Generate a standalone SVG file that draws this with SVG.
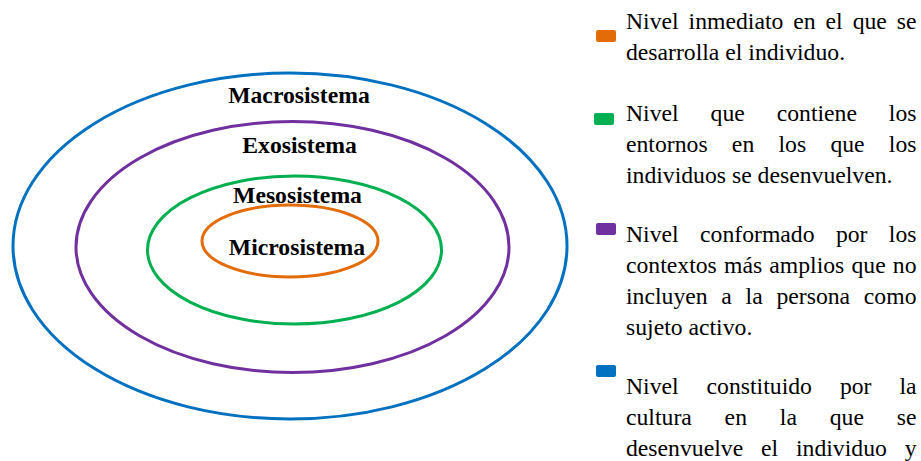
<svg xmlns="http://www.w3.org/2000/svg" width="921" height="461" viewBox="0 0 921 461">
<style>
.ring{fill:none;stroke-width:3}
.lbl{font-family:"Liberation Serif","Times New Roman",serif;font-weight:bold;font-size:23.7px;fill:#000;text-anchor:middle}
.leg{font-family:"Liberation Serif","Times New Roman",serif;font-size:23.7px;fill:#000}
.sw{stroke:none}
</style>
<rect width="921" height="461" fill="#fff"/>
<g id="macrosistema">
<ellipse class="ring" cx="290" cy="246" rx="277" ry="173" stroke="#0070C0"/>
<text class="lbl" x="299" y="103">Macrosistema</text>
</g>
<g id="exosistema">
<ellipse class="ring" cx="292.5" cy="247" rx="216.5" ry="125.5" stroke="#7030A0"/>
<text class="lbl" x="299.5" y="152.5">Exosistema</text>
</g>
<g id="mesosistema">
<ellipse class="ring" cx="294.5" cy="250" rx="147" ry="74" stroke="#00B050"/>
<text class="lbl" x="297.5" y="203">Mesosistema</text>
</g>
<g id="microsistema">
<ellipse class="ring" cx="290" cy="241" rx="88" ry="36" stroke="#E36C09"/>
<text class="lbl" x="297" y="254.5">Microsistema</text>
</g>
<g id="connectors"/>
<g id="legend-micro">
<rect class="sw" x="596" y="30" width="20" height="12" rx="2" fill="#E36C09"/>
<text class="leg" x="626" y="29" textLength="290.5" lengthAdjust="spacing" word-spacing="4">Nivel inmediato en el que se</text>
<text class="leg" x="626" y="60">desarrolla el individuo.</text>
</g>
<g id="legend-meso">
<rect class="sw" x="594" y="113" width="20" height="12" rx="2" fill="#00B050"/>
<text class="leg" x="626" y="120.5" textLength="290.5" lengthAdjust="spacing" word-spacing="26">Nivel que contiene los</text>
<text class="leg" x="626" y="151.5" textLength="290.5" lengthAdjust="spacing" word-spacing="18.3">entornos en los que los</text>
<text class="leg" x="626" y="182.5">individuos se desenvuelven.</text>
</g>
<g id="legend-exo">
<rect class="sw" x="596" y="223" width="20" height="12" rx="2" fill="#7030A0"/>
<text class="leg" x="626" y="241.5" textLength="290.5" lengthAdjust="spacing" word-spacing="15.4">Nivel conformado por los</text>
<text class="leg" x="626" y="272.5" textLength="290.5" lengthAdjust="spacing" word-spacing="1.2">contextos más amplios que no</text>
<text class="leg" x="626" y="303.5" textLength="290.5" lengthAdjust="spacing" word-spacing="7.8">incluyen a la persona como</text>
<text class="leg" x="626" y="334.5">sujeto activo.</text>
</g>
<g id="legend-macro">
<rect class="sw" x="596" y="365" width="20" height="12" rx="2" fill="#0070C0"/>
<text class="leg" x="626" y="394" textLength="290.5" lengthAdjust="spacing" word-spacing="22">Nivel constituido por la</text>
<text class="leg" x="626" y="425" textLength="290.5" lengthAdjust="spacing" word-spacing="26.9">cultura en la que se</text>
<text class="leg" x="626" y="456" textLength="290.5" lengthAdjust="spacing" word-spacing="11.9">desenvuelve el individuo y</text>
</g>
</svg>
